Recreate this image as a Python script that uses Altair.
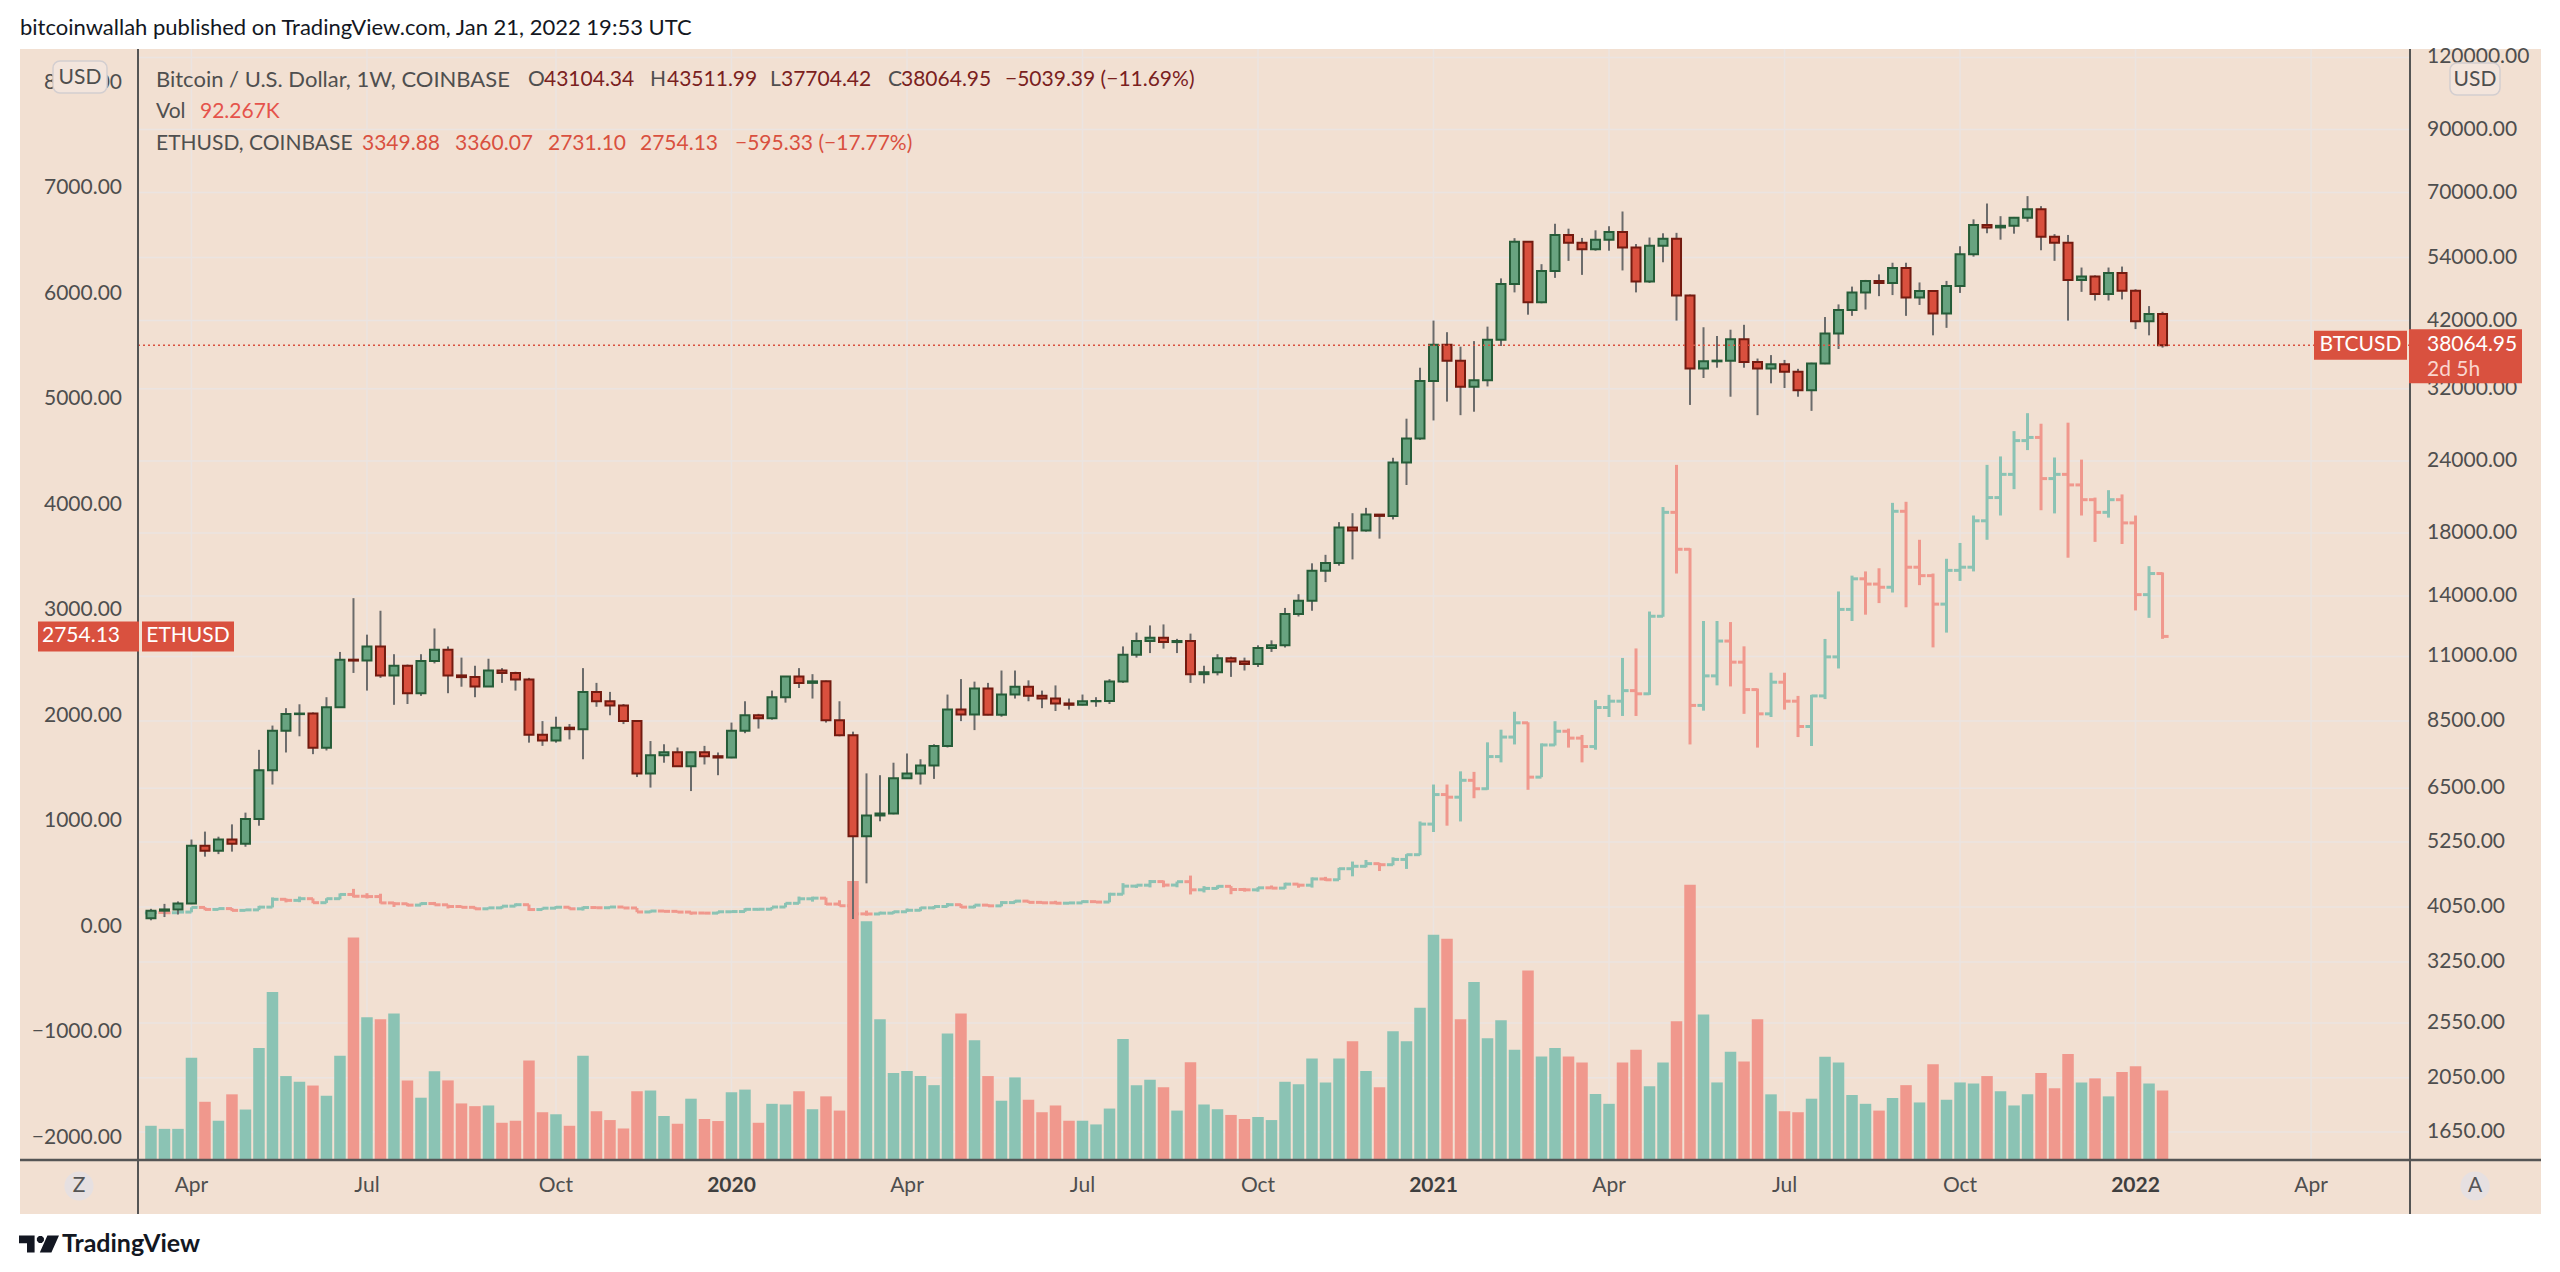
import altair as alt
import pandas as pd

FONT = "Lato"

# ---------------- data (weekly bars, Mar 11 2019 .. Jan 17 2022) ----------------
week_index = list(range(150))

btc_open = [3870,3990,4010,4105,5170,5070,5300,5210,5750,6990,
 8180,8740,8760,7640,8980,10860,10820,11450,10200,10600,
 9500,10800,11300,10200,10130,9760,10400,10300,10030,8050,
 7870,8280,8230,9550,9200,9050,8500,6900,7420,7510,
 7100,7510,7390,7350,8180,8700,8600,9350,10150,9900,
 9960,8530,8030,5370,5830,5880,6770,6900,7120,7700,
 8900,8730,9680,8720,9450,9750,9400,9300,9120,9070,
 9200,9210,9950,11080,11700,11850,11650,11700,10250,10330,
 10920,10780,10670,11380,11500,13030,13740,15480,15970,18400,
 18180,19370,19270,23850,26250,33000,38150,35800,32250,33100,
 38900,48600,57500,45200,51200,59100,57300,55800,58000,59800,
 56200,49100,56600,58200,46400,34700,35700,35800,39000,35600,
 34700,35300,34250,31800,35400,39900,43800,47000,49200,48800,
 51800,46050,47250,43200,48200,54700,61500,60900,61300,63300,
 65500,58700,57300,49400,50100,46700,50800,47300,41900,43104.34]

btc_high = [4020,4100,4140,5300,5470,5360,5630,5900,7580,8350,
 8950,9090,8800,9350,11200,13880,12000,13200,11100,10650,
 11100,12300,11450,10950,10600,10900,10500,10350,10100,8500,
 8650,8400,10500,9900,9550,9100,8500,7850,7750,7650,
 7520,7700,7500,8450,9200,8750,9600,10170,10500,10250,
 9990,9200,8150,6900,6850,7200,7470,7300,7750,9450,
 10050,9950,9900,10400,10400,10000,9600,9800,9300,9450,
 9350,10050,11450,12100,12450,12500,11800,12050,10600,11100,
 10990,10950,11500,11730,13350,14100,15950,16500,18800,19480,
 19900,19400,24300,28400,34800,42000,40100,37850,38700,41000,
 49700,58350,57500,52600,61800,60600,58400,60200,61200,64900,
 57000,58500,59500,59600,46600,40900,39500,40500,41300,36100,
 36600,35900,34650,35500,42600,44800,48100,49400,50500,52900,
 52900,48900,47400,49200,56500,62900,67000,63700,63500,69000,
 66300,59300,59100,51900,50300,51900,52100,47600,44500,43511.99]

btc_low = [3840,3890,3930,4095,4950,5000,5050,5150,5600,6600,
 7500,8000,7450,7560,8970,10300,9600,10100,9070,9100,
 9400,10700,9500,9750,9350,9750,9900,9600,7800,7700,
 7800,7900,7300,9000,8700,8400,6800,6520,7200,7080,
 6430,7150,6850,7330,8100,8250,8550,9150,9700,9300,
 8450,8000,3860,4450,5700,5860,6770,6600,6750,7650,
 8500,8200,8700,8650,9300,9200,8950,8850,8900,9050,
 9000,9100,9900,10950,11150,11350,11150,9900,9880,10200,
 10140,10400,10550,11200,11400,12900,13200,14800,15800,16200,
 18100,17600,19000,21800,26100,28200,30400,28800,29200,32300,
 37950,47000,43000,45000,49800,53300,50400,55500,55500,51300,
 47000,48800,53000,42000,30000,33400,34800,31000,34800,28800,
 32700,32100,31000,29300,35300,37500,42800,43900,46300,46500,
 42800,44700,39600,40800,46900,54200,59500,58000,59400,62300,
 55600,53300,42000,47100,45500,45500,45700,40600,39600,37704.42]

btc_close = [3990,4010,4105,5170,5070,5300,5210,5750,6990,8180,
 8740,8760,7640,8980,10860,10820,11450,10200,10600,9500,
 10800,11300,10200,10130,9760,10400,10300,10030,8050,7870,
 8280,8230,9550,9200,9050,8500,6900,7420,7510,7100,
 7510,7390,7350,8180,8700,8600,9350,10150,9900,9960,
 8530,8030,5370,5830,5880,6770,6900,7120,7700,8900,
 8730,9680,8720,9450,9750,9400,9300,9120,9070,9200,
 9210,9950,11080,11700,11850,11650,11700,10250,10330,10920,
 10780,10670,11380,11500,13030,13740,15480,15970,18400,18180,
 19370,19270,23850,26250,33000,38150,35800,32250,33100,38900,
 48600,57500,45200,51200,59100,57300,55800,58000,59800,56200,
 49100,56600,58200,46400,34700,35700,35800,39000,35600,34700,
 35300,34250,31800,35400,39900,43800,47000,49200,48800,51800,
 46050,47250,43200,48200,54700,61500,60900,61300,63300,65500,
 58700,57300,49400,50100,46700,50800,47300,41900,43100,38064.95]

eth_open = [133,137,135,141,185,166,174,157,162,188,
 262,252,268,230,268,308,291,288,228,220,
 207,222,210,194,186,172,181,197,211,165,
 178,187,172,184,182,189,180,142,151,148,
 141,132,131,144,146,167,168,189,224,267,
 273,217,201,124,123,131,144,158,181,194,
 211,188,207,200,231,245,233,229,225,228,
 240,236,310,387,396,430,397,429,352,365,
 385,355,352,371,368,406,396,455,447,552,
 575,600,590,640,685,975,1255,1230,1390,1310,
 1615,1800,1935,1420,1725,1855,1790,1710,2080,2140,
 2240,2210,2945,3930,3580,2100,2380,2710,2510,2250,
 2020,2320,2140,1900,2190,2560,3010,3300,3250,3220,
 3940,3410,3330,3060,3380,3410,3850,4070,4290,4610,
 4640,4250,4290,4190,4050,3930,4050,3830,3150,3349.88]

eth_high = [140,140,142,186,187,180,180,170,200,280,
 270,288,270,272,318,361,320,315,236,225,
 232,237,212,201,192,184,200,223,212,182,
 198,192,194,188,194,190,180,156,152,152,
 142,135,147,150,178,174,190,228,288,287,
 278,253,201,155,145,150,175,187,198,227,
 218,210,215,245,253,250,238,248,232,252,
 244,324,415,400,445,440,430,487,387,394,
 387,370,377,393,419,409,470,475,560,620,
 635,607,660,690,1000,1350,1350,1475,1470,1750,
 1870,2040,1940,1740,1950,1880,1820,2150,2200,2550,
 2640,2990,3980,4380,3590,2900,2900,2890,2660,2260,
 2410,2410,2190,2200,2730,3180,3330,3370,3400,4020,
 4030,3670,3350,3490,3640,3900,4380,4460,4700,4870,
 4770,4450,4780,4430,4070,4140,4100,3900,3420,3360.07]

eth_low = [130,132,132,139,158,160,150,152,160,185,
 233,235,225,228,262,280,270,223,190,196,
 205,206,175,180,165,170,173,195,152,162,
 176,167,156,178,180,178,140,136,145,137,
 116,124,125,135,143,156,165,186,220,240,
 208,198,90,107,121,125,144,150,168,191,
 180,178,197,196,226,228,221,218,222,227,
 232,234,307,370,375,376,376,308,327,360,
 310,335,335,365,362,372,373,437,445,480,
 565,530,585,550,680,900,960,1000,1220,1300,
 1560,1730,1300,1420,1720,1700,1560,1680,1990,2000,
 2000,2200,2940,3350,1730,2050,2290,2280,2020,1700,
 1990,2060,1800,1715,2160,2450,2900,2960,3070,3170,
 3030,3240,2650,2790,3280,3370,3670,3900,4150,4520,
 3950,3920,3500,3900,3650,3880,3630,3000,2930,2731.10]

eth_close = [137,135,141,185,166,174,157,162,188,262,
 252,268,230,268,308,291,288,228,220,207,
 222,210,194,186,172,181,197,211,165,178,
 187,172,184,182,189,180,142,151,148,141,
 132,131,144,146,167,168,189,224,267,273,
 217,201,124,123,131,144,158,181,194,211,
 188,207,200,231,245,233,229,225,228,240,
 236,310,387,396,430,397,429,352,365,385,
 355,352,371,368,406,396,455,447,552,575,
 600,590,640,685,975,1255,1230,1390,1310,1615,
 1800,1935,1420,1725,1855,1790,1710,2080,2140,2240,
 2210,2945,3930,3580,2100,2380,2710,2510,2250,2020,
 2320,2140,1900,2190,2560,3010,3300,3250,3220,3940,
 3410,3330,3060,3380,3410,3850,4070,4290,4610,4640,
 4250,4290,4190,4050,3930,4050,3830,3150,3350,2754.13]

volume_k = [45.5,41.4,41.4,135.9,77.4,52.2,87.3,67.1,149.0,223.2,
 111.6,104.0,99.0,85.5,138.6,295.7,189.9,187.2,194.9,105.8,
 82.8,117.9,105.8,75.2,71.6,72.5,49.5,52.2,132.3,63.5,
 60.8,45.5,138.6,64.8,53.1,41.9,91.4,92.3,58.5,48.2,
 81.5,54.5,51.8,90.0,93.6,49.5,74.7,73.8,91.4,67.5,
 84.6,65.7,370.8,317.3,187.2,115.7,118.4,111.6,99.5,168.3,
 194.9,159.3,111.6,78.8,109.8,80.1,63.5,72.5,52.2,52.2,
 47.3,68.4,160.7,99.5,106.7,96.8,65.7,130.1,73.8,67.5,
 59.9,54.5,57.2,53.1,104.0,100.8,135.0,103.1,135.0,158.0,
 118.4,96.8,171.0,158.0,202.5,299.3,294.3,187.2,236.7,162.0,
 185.9,146.7,252.0,137.7,149.0,137.7,129.6,87.8,74.7,129.6,
 146.7,98.1,129.6,184.5,365.9,193.5,103.1,144.0,131.0,187.2,
 87.3,64.8,63.5,81.5,137.3,129.6,86.4,74.7,65.7,82.4,
 99.5,76.5,127.4,80.1,103.1,101.7,111.6,91.4,72.5,87.3,
 115.7,95.4,140.9,103.1,108.5,84.6,117.0,124.7,101.7,92.267]

month_tick_idx = [3, 16, 30, 56, 69, 82, 108, 121, 134, 160]
month_tick_lbl = ["Apr", "Jul", "Oct", "Apr", "Jul", "Oct", "Apr", "Jul", "Oct", "Apr"]
year_tick_idx = [43, 95, 147]
year_tick_lbl = ["2020", "2021", "2022"]

btc_ticks = [120000, 90000, 70000, 54000, 42000, 32000, 24000, 18000, 14000,
             11000, 8500, 6500, 5250, 4050, 3250, 2550, 2050, 1650]
eth_ticks = [8000, 7000, 6000, 5000, 4000, 3000, 2000, 1000, 0, -1000, -2000]

# ---------------- styles ----------------
BG = "#F2E0D2"
GRID = "#EBE4E1"
AXIS_TXT = "#4E4E4E"
SEP = "#555555"
TEAL = "#8BC3B4"
SALMON = "#F0988D"
UP_FILL, UP_STROKE = "#68A380", "#265C38"
DN_FILL, DN_STROKE = "#D9503E", "#731B10"
ETH_UP, ETH_DN = "#4F9563", "#D84A37"
WICK = "#6B6B6B"
LBL_RED = "#D9513F"

W, H = 2272, 1111

df = pd.DataFrame({
    "idx": week_index,
    "bo": btc_open, "bh": btc_high, "bl": btc_low, "bc": btc_close,
    "eo": eth_open, "eh": eth_high, "el": eth_low, "ec": eth_close,
    "vol": volume_k,
})
df["bdir"] = ["up" if c >= o else "down" for o, c in zip(btc_open, btc_close)]
df["edir"] = ["up" if c >= o else "down" for o, c in zip(eth_open, eth_close)]

XS = alt.Scale(domain=[-0.59, 166.96], nice=False, zero=False)
YB = alt.Scale(type="log", domain=[1476, 124089], nice=False)
YE = alt.Scale(domain=[-2209, 8322], nice=False, zero=False)
YV = alt.Scale(domain=[0, 1477], nice=False, zero=False)

dir_dom = ["up", "down"]
X = lambda f: alt.X(f, scale=XS, axis=None)

ONE = pd.DataFrame({"k": [0]})


def label(x, y, s, color, size=21, weight="normal", align="left"):
    return alt.Chart(ONE).mark_text(
        text=s, align=align, baseline="middle", fontSize=size,
        fontWeight=weight, color=color, font=FONT
    ).encode(x=alt.value(x), y=alt.value(y))


def box_path(w, top, bottom):
    h = w / 2.0
    return f"M-1,{-top / h:.4f}H1V{bottom / h:.4f}H-1Z"


base = alt.Chart(df)

layers = []

# panel background
layers.append(alt.Chart(ONE).mark_rect(color=BG).encode(
    x=alt.value(-118), x2=alt.value(2403), y=alt.value(0), y2=alt.value(1165)))

# grid
vt = pd.DataFrame({"idx": month_tick_idx + year_tick_idx})
layers.append(alt.Chart(vt).mark_rule(color=GRID, strokeWidth=1.5).encode(
    x=X("idx:Q"), y=alt.value(0), y2=alt.value(H)))
bt = pd.DataFrame({"v": btc_ticks})
layers.append(alt.Chart(bt).mark_rule(color=GRID, strokeWidth=1.5).encode(
    y=alt.Y("v:Q", scale=YB, axis=None), x=alt.value(0), x2=alt.value(W)))

# volume
layers.append(base.mark_bar(size=11.5).encode(
    x=X("idx:Q"),
    y=alt.Y("vol:Q", scale=YV, axis=None),
    y2=alt.datum(0),
    color=alt.Color("bdir:N", scale=alt.Scale(domain=dir_dom, range=[TEAL, SALMON]), legend=None),
))

# ETH OHLC bars
ecol = alt.Color("edir:N", scale=alt.Scale(domain=dir_dom, range=[ETH_UP, ETH_DN]), legend=None)
layers.append(base.mark_rule(strokeWidth=3).encode(
    x=X("idx:Q"), y=alt.Y("el:Q", scale=YE, axis=None), y2="eh:Q", color=ecol))
layers.append(base.transform_calculate(xl="datum.idx - 0.45").mark_rule(strokeWidth=3).encode(
    x=X("xl:Q"), x2="idx:Q", y=alt.Y("eo:Q", scale=YE, axis=None), color=ecol))
layers.append(base.transform_calculate(xr="datum.idx + 0.45").mark_rule(strokeWidth=3).encode(
    x=X("idx:Q"), x2="xr:Q", y=alt.Y("ec:Q", scale=YE, axis=None), color=ecol))

# BTC candles
layers.append(base.mark_rule(color=WICK, strokeWidth=2).encode(
    x=X("idx:Q"), y=alt.Y("bl:Q", scale=YB, axis=None), y2="bh:Q"))
layers.append(base.mark_bar(size=9, strokeWidth=2).encode(
    x=X("idx:Q"),
    y=alt.Y("bo:Q", scale=YB, axis=None), y2="bc:Q",
    fill=alt.Fill("bdir:N", scale=alt.Scale(domain=dir_dom, range=[UP_FILL, DN_FILL]), legend=None),
    stroke=alt.Stroke("bdir:N", scale=alt.Scale(domain=dir_dom, range=[UP_STROKE, DN_STROKE]), legend=None),
))

# BTC last price line and labels
pb = pd.DataFrame({"p": [btc_close[-1]], "t": [f"{btc_close[-1]:.2f}"]})
pe = pd.DataFrame({"p": [eth_close[-1]], "t": [f"{eth_close[-1]:.2f}"]})
YBp = alt.Y("p:Q", scale=YB, axis=None)
YEp = alt.Y("p:Q", scale=YE, axis=None)
layers.append(alt.Chart(pb).mark_rule(color=LBL_RED, strokeDash=[2, 3], strokeWidth=1.5).encode(
    y=YBp, x=alt.value(0), x2=alt.value(W)))

# separators
layers.append(alt.Chart(ONE).mark_rule(color=SEP, strokeWidth=2).encode(
    x=alt.value(0), y=alt.value(0), y2=alt.value(1165)))
layers.append(alt.Chart(ONE).mark_rule(color=SEP, strokeWidth=2).encode(
    x=alt.value(W), y=alt.value(0), y2=alt.value(1165)))
layers.append(alt.Chart(ONE).mark_rule(color=SEP, strokeWidth=2.5).encode(
    x=alt.value(-118), x2=alt.value(2403), y=alt.value(H)))

# right axis labels (BTC, log)
layers.append(alt.Chart(bt).mark_text(align="left", baseline="middle", fontSize=21,
                                      color=AXIS_TXT, font=FONT).encode(
    y=alt.Y("v:Q", scale=YB, axis=None), x=alt.value(2289), text=alt.Text("v:Q", format=".2f")))
# left axis labels (ETH, linear)
et = pd.DataFrame({"v": eth_ticks})
layers.append(alt.Chart(et).mark_text(align="right", baseline="middle", fontSize=21,
                                      color=AXIS_TXT, font=FONT).encode(
    y=alt.Y("v:Q", scale=YE, axis=None), x=alt.value(-16), text=alt.Text("v:Q", format=".2f")))
# bottom labels
mt = pd.DataFrame({"idx": month_tick_idx, "lbl": month_tick_lbl})
yt = pd.DataFrame({"idx": year_tick_idx, "lbl": year_tick_lbl})
layers.append(alt.Chart(mt).mark_text(align="center", baseline="middle", fontSize=21,
                                      color=AXIS_TXT, font=FONT).encode(
    x=X("idx:Q"), y=alt.value(1137), text="lbl:N"))
layers.append(alt.Chart(yt).mark_text(align="center", baseline="middle", fontSize=21,
                                      fontWeight="bold", color="#3F3F3F", font=FONT).encode(
    x=X("idx:Q"), y=alt.value(1137), text="lbl:N"))

# price label boxes
layers.append(alt.Chart(pb).mark_point(shape=box_path(93, 14.5, 14.5), filled=True, opacity=1,
                                       size=93 ** 2, color=LBL_RED, strokeWidth=0).encode(
    x=alt.value(2222.5), y=YBp))
layers.append(alt.Chart(pb).mark_text(text="BTCUSD", align="center", baseline="middle", fontSize=21,
                                      color="white", font=FONT).encode(x=alt.value(2222.5), y=YBp))
layers.append(alt.Chart(pb).mark_point(shape=box_path(113, 16, 38), filled=True, opacity=1,
                                       size=113 ** 2, color=LBL_RED, strokeWidth=0).encode(
    x=alt.value(2327.5), y=YBp))
layers.append(alt.Chart(pb).mark_text(align="left", baseline="middle", fontSize=21,
                                      color="white", font=FONT).encode(x=alt.value(2289), y=YBp, text="t:N"))
layers.append(alt.Chart(pb).mark_text(text="2d 5h", align="left", baseline="middle", fontSize=21, dy=25,
                                      color="#FAD6CF", font=FONT).encode(x=alt.value(2289), y=YBp))

layers.append(alt.Chart(pe).mark_point(shape=box_path(101, 15, 15), filled=True, opacity=1,
                                       size=101 ** 2, color=LBL_RED, strokeWidth=0).encode(
    x=alt.value(-49.5), y=YEp))
layers.append(alt.Chart(pe).mark_text(align="right", baseline="middle", fontSize=21,
                                      color="white", font=FONT).encode(x=alt.value(-18), y=YEp, text="t:N"))
layers.append(alt.Chart(pe).mark_point(shape=box_path(92, 15, 15), filled=True, opacity=1,
                                       size=92 ** 2, color=LBL_RED, strokeWidth=0).encode(
    x=alt.value(50), y=YEp))
layers.append(alt.Chart(pe).mark_text(text="ETHUSD", align="center", baseline="middle", fontSize=21,
                                      color="white", font=FONT).encode(x=alt.value(50), y=YEp))

# USD badges
for x1, x2, y1, y2, cx, cy in [(-85, -31, 12, 44, -58, 28), (2312, 2362, 14, 46, 2337, 30)]:
    layers.append(alt.Chart(ONE).mark_rect(fill="#F3E5DC", stroke="#D3CED0", strokeWidth=1.5,
                                           cornerRadius=7).encode(
        x=alt.value(x1), x2=alt.value(x2), y=alt.value(y1), y2=alt.value(y2)))
    layers.append(label(cx, cy + 1, "USD", AXIS_TXT, size=21, align="center"))

# Z / A badges
for cx, s in [(-59, "Z"), (2337, "A")]:
    layers.append(alt.Chart(ONE).mark_point(shape="circle", filled=True, opacity=1, size=850,
                                            color="#E6E0E1", strokeWidth=0).encode(
        x=alt.value(cx), y=alt.value(1137)))
    layers.append(label(cx, 1137, s, "#555555", size=21, align="center"))

# header legend
GRAY = "#4F4F4F"
MAROON = "#7A211E"
VOLRED = "#E5534B"
ETHRED = "#D9503F"
layers += [
    label(18, 31, "Bitcoin / U.S. Dollar, 1W, COINBASE", GRAY, size=22),
    label(390, 31, "O", GRAY), label(406, 31, "43104.34", MAROON),
    label(512, 31, "H", GRAY), label(529, 31, "43511.99", MAROON),
    label(632, 31, "L", GRAY), label(643, 31, "37704.42", MAROON),
    label(750, 31, "C", GRAY), label(763, 31, "38064.95", MAROON),
    label(867, 31, "\u22125039.39 (\u221211.69%)", MAROON),
    label(18, 63, "Vol", GRAY), label(62, 63, "92.267K", VOLRED),
    label(18, 95, "ETHUSD, COINBASE", GRAY),
    label(224, 95, "3349.88", ETHRED), label(317, 95, "3360.07", ETHRED),
    label(410, 95, "2731.10", ETHRED), label(502, 95, "2754.13", ETHRED),
    label(597, 95, "\u2212595.33 (\u221217.77%)", ETHRED),
]

# title
layers.append(label(-118, -21, "bitcoinwallah published on TradingView.com, Jan 21, 2022 19:53 UTC",
                    "#131722", size=22))

# footer logo
logo = ("M-1,-0.42H-0.22V0.42H-0.6V-0.04H-1Z "
        "M0.246,-0.303L0.143,-0.406L-0.003,-0.406L-0.106,-0.303L-0.106,-0.157"
        "L-0.003,-0.054L0.143,-0.054L0.246,-0.157Z "
        "M0.42,-0.42H1L0.62,0.42H0.04Z")
layers.append(alt.Chart(ONE).mark_point(shape=logo, filled=True, opacity=1, size=1600,
                                        color="#131722", strokeWidth=0).encode(
    x=alt.value(-99), y=alt.value(1195)))
layers.append(label(-76, 1195, "TradingView", "#131722", size=25, weight="bold"))

chart = alt.layer(*layers).resolve_scale(y="independent").properties(
    width=W, height=H,
    padding={"left": 130, "top": 41, "right": 142, "bottom": 104},
    autosize=alt.AutoSizeParams(type="none"),
    background="white",
).configure(font=FONT).configure_view(stroke=None)

chart.save("out.html", embed_options={"renderer": "svg", "actions": False})
